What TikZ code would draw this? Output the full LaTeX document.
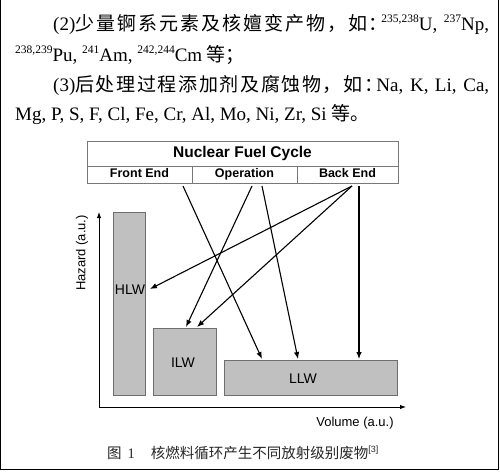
\documentclass[tikz,border=0pt]{standalone}
\usepackage{fontspec}
\setmainfont{Liberation Serif}
\newfontfamily\cjk{Noto Sans CJK SC}
\newfontfamily\arialf{Liberation Sans}
\usetikzlibrary{arrows.meta}
\newcommand{\supx}[1]{\raisebox{0.38em}{\fontsize{11.5}{12}\selectfont #1}}
\def\spreadcjk#1{\spreadA#1\relax}
\def\spreadA#1{\ifx#1\relax\else #1\hskip0pt plus 1pt\relax\expandafter\spreadA\fi}
\definecolor{tabgray}{RGB}{120,120,120}
\definecolor{bargray}{RGB}{110,110,110}
\definecolor{barfill}{RGB}{192,192,192}
\begin{document}
\begin{tikzpicture}[x=1pt,y=-1pt,
  body/.style={anchor=base west, inner sep=0pt, font=\fontsize{19}{22}\selectfont},
  cell/.style={draw=tabgray, line width=0.8pt, inner sep=0pt, text height=9pt, text depth=2.5pt, font=\arialf\bfseries\fontsize{12.5}{14}\selectfont},
  bar/.style={draw=bargray, fill=barfill, line width=0.8pt, inner sep=0pt},
  lab/.style={inner sep=0pt, font=\arialf\fontsize{14}{16}\selectfont},
  axlab/.style={inner sep=0pt, font=\arialf\fontsize{13}{15}\selectfont},
  arr/.style={-{Latex[length=7pt,width=5.5pt]}, line width=1.1pt},
]
\useasboundingbox (0,0) rectangle (500,471);
\draw[line width=1.2pt] (0.6,0) -- (0.6,469.4) -- (498.4,469.4) -- (498.4,0);

% body text
\node[body] (l1) at (53,30) {\spaceskip=0.25em plus 1pt\hbox to 436pt{(2){\cjk\spreadcjk{少量锕系元素及核嬗变产物，如：}\hspace{-0.45em}}\supx{235,238}U, \supx{237}Np,}};
\node[body] (l2) at (15,61) {\supx{238,239}Pu, \supx{241}Am, \supx{242,244}Cm {\cjk 等；}};
\node[body] (l3) at (53,91) {\spaceskip=0.25em plus 1pt\hbox to 436pt{(3){\cjk\spreadcjk{后处理过程添加剂及腐蚀物，如：}\hspace{-0.45em}}Na, K, Li, Ca,}};
\node[body] (l4) at (15,120) {Mg, P, S, F, Cl, Fe, Cr, Al, Mo, Ni, Zr, Si {\cjk 等。}};

% table
\node[cell, minimum width=311pt, minimum height=25pt, text height=11.5pt, text depth=3pt, font=\arialf\bfseries\fontsize{15.5}{17}\selectfont] (title) at (242.5,153.5) {Nuclear Fuel Cycle};
\node[cell, minimum width=105pt, minimum height=17pt] (front) at (139.5,174.5) {Front End};
\node[cell, minimum width=105pt, minimum height=17pt] (oper) at (244.5,174.5) {Operation};
\node[cell, minimum width=101pt, minimum height=17pt] (back) at (347.5,174.5) {Back End};

% bars
\node[bar, minimum width=32pt, minimum height=183pt] (hlw) at (129,303.5) {};
\node[bar, minimum width=63pt, minimum height=67pt] (ilw) at (184.5,361.5) {};
\node[bar, minimum width=173pt, minimum height=35pt] (llw) at (310.5,377.5) {};
\node[lab] (hlwl) at (130,290) {HLW};
\node[lab] (ilwl) at (183,363) {ILW};
\node[lab] (llwl) at (303,379) {LLW};

% axes
\coordinate (ytop) at (99,212);
\coordinate (orig) at (99,407);
\coordinate (xend) at (406,407);
\draw[{Latex[length=6pt,width=4.5pt]}-{Latex[length=6pt,width=4.5pt]}, line width=1pt] (ytop) -- (orig) -- (xend);
\node[axlab, rotate=90] (hz) at (82,253) {Hazard (a.u.)};
\node[axlab] (vol) at (355,423) {Volume (a.u.)};

% arrows
\coordinate (fe) at (183,186);
\coordinate (op1) at (252,186);
\coordinate (op2) at (262,186);
\coordinate (be1) at (352,186);
\coordinate (be2) at (359,186);
\coordinate (llwA) at (262,359);
\coordinate (llwB) at (298,359);
\coordinate (llwC) at (359,359);
\coordinate (ilwA) at (186,327);
\coordinate (ilwB) at (197,327);
\coordinate (hlwA) at (150,289);
\draw[arr] (fe) -- (llwA);
\draw[arr] (op1) -- (ilwA);
\draw[arr] (op2) -- (llwB);
\draw[arr] (be1) -- (hlwA);
\draw[arr] (be1) -- (ilwB);
\draw[arr] (be2) -- (llwC);

% caption
\node[anchor=base west, inner sep=0pt, font=\fontsize{14.5}{16}\selectfont, text=black!85] (cap) at (107,458) {{\cjk 图}\hspace{6pt}1\hspace{16pt}{\cjk 核燃料循环产生不同放射级别废物}{\arialf\supx{\fontsize{9}{9}\selectfont[3]}}};
\end{tikzpicture}
\end{document}
